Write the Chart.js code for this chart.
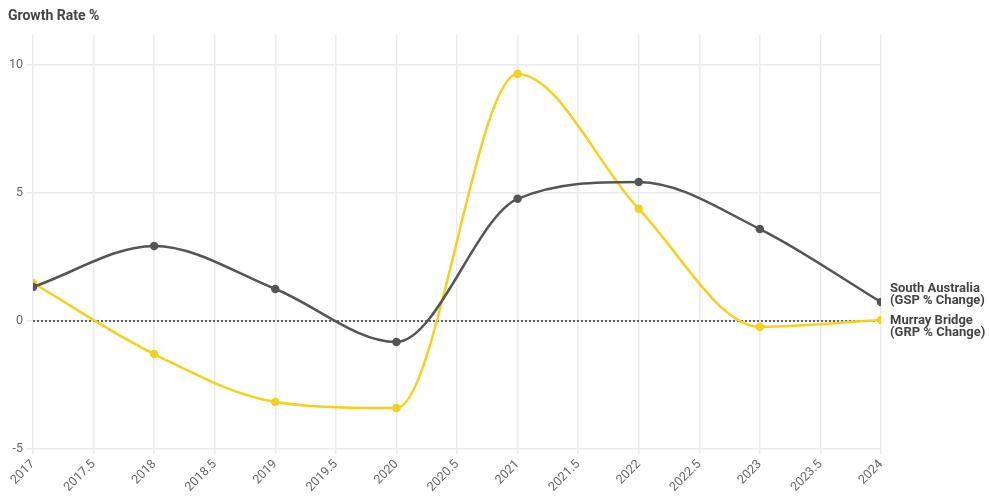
<!DOCTYPE html>
<html>
<head>
<meta charset="utf-8">
<script src="https://cdn.jsdelivr.net/npm/chart.js@4"></script>
<style>
  html, body { margin: 0; padding: 0; background: #fff; }
  #wrap { width: 989px; height: 497px; position: relative; }
</style>
</head>
<body>
<div id="wrap"><canvas id="c"></canvas></div>
<script>
const years = [2017, 2018, 2019, 2020, 2021, 2022, 2023, 2024];
const southAustralia = [1.33, 2.93, 1.25, -0.82, 4.77, 5.43, 3.59, 0.74];
const murrayBridge = [1.48, -1.29, -3.16, -3.40, 9.65, 4.38, -0.23, 0.04];
const seriesNames = [
  ['South Australia', '(GSP % Change)'],
  ['Murray Bridge', '(GRP % Change)']
];
const yTitle = 'Growth Rate %';
const referenceValue = 0;

const FONT = 'Roboto, "DejaVu Sans", sans-serif';
const GREY = '#555555';
const YELLOW = '#F5D11E';

const toPoints = vals => years.map((yr, i) => ({ x: yr, y: vals[i] }));

// Dotted line at the zero growth level
const zeroLine = {
  id: 'zeroLine',
  beforeDatasetsDraw(chart) {
    const { ctx, chartArea, scales } = chart;
    const y = scales.y.getPixelForValue(referenceValue);
    ctx.save();
    ctx.strokeStyle = '#333';
    ctx.lineWidth = 1.5;
    ctx.setLineDash([2, 2]);
    ctx.beginPath();
    ctx.moveTo(chartArea.left, y);
    ctx.lineTo(chartArea.right, y);
    ctx.stroke();
    ctx.restore();
  }
};

// Axis caption above the plot
const caption = {
  id: 'caption',
  afterDraw(chart) {
    const { ctx } = chart;
    ctx.save();
    ctx.font = 'bold 14px ' + FONT;
    ctx.fillStyle = '#444';
    ctx.textBaseline = 'middle';
    ctx.fillText(yTitle, 8, 16);
    ctx.restore();
  }
};

// Series names next to the last point of each line, nudged apart
const endLabels = {
  id: 'endLabels',
  afterDatasetsDraw(chart) {
    const { ctx } = chart;
    const items = chart.data.datasets.map((ds, i) => {
      const meta = chart.getDatasetMeta(i);
      const pt = meta.data[meta.data.length - 1];
      return { x: pt.x, y: pt.y, lines: seriesNames[i] };
    });
    const gap = 32;
    items.sort((a, b) => a.y - b.y);
    for (let k = 1; k < items.length; k++) {
      const prev = items[k - 1], cur = items[k];
      if (cur.y - prev.y < gap) {
        const mid = (cur.y + prev.y) / 2;
        prev.y = mid - gap / 2;
        cur.y = mid + gap / 2;
      }
    }
    ctx.save();
    ctx.font = 'bold 13px ' + FONT;
    ctx.fillStyle = '#444';
    ctx.textBaseline = 'middle';
    items.forEach(it => {
      ctx.fillText(it.lines[0], it.x + 9, it.y - 6);
      ctx.fillText(it.lines[1], it.x + 9, it.y + 6);
    });
    ctx.restore();
  }
};

new Chart(document.getElementById('c'), {
  type: 'line',
  data: {
    datasets: [
      {
        label: seriesNames[0].join(' '),
        data: toPoints(southAustralia),
        borderColor: GREY,
        backgroundColor: GREY,
        borderWidth: 2.5,
        pointRadius: 3,
        pointHoverRadius: 3,
        cubicInterpolationMode: 'monotone'
      },
      {
        label: seriesNames[1].join(' '),
        data: toPoints(murrayBridge),
        borderColor: YELLOW,
        backgroundColor: YELLOW,
        borderWidth: 2.5,
        pointRadius: 3,
        pointHoverRadius: 3,
        cubicInterpolationMode: 'monotone'
      }
    ]
  },
  options: {
    responsive: true,
    maintainAspectRatio: false,
    animation: false,
    layout: { padding: { top: 35, right: 108, left: 0, bottom: 0 } },
    plugins: {
      legend: { display: false },
      title: { display: false },
      tooltip: { enabled: false }
    },
    scales: {
      x: {
        type: 'linear',
        min: 2017,
        max: 2024,
        ticks: {
          stepSize: 0.5,
          maxRotation: 45,
          minRotation: 45,
          color: '#666',
          font: { family: FONT, size: 12.5 },
          callback: v => String(v)
        },
        grid: { color: '#ebebeb', lineWidth: 1.5, drawTicks: true, tickLength: 5 },
        border: { display: false },
        afterFit: s => { s.height = 48; }
      },
      y: {
        type: 'linear',
        min: -5,
        max: 11.17,
        ticks: {
          stepSize: 5,
          includeBounds: false,
          color: '#666',
          font: { family: FONT, size: 12.5 },
          padding: 4
        },
        grid: { color: '#ebebeb', lineWidth: 1.5, tickLength: 6 },
        border: { display: false },
        afterFit: s => { s.width = 33; }
      }
    }
  },
  plugins: [zeroLine, endLabels, caption]
});
</script>
</body>
</html>
